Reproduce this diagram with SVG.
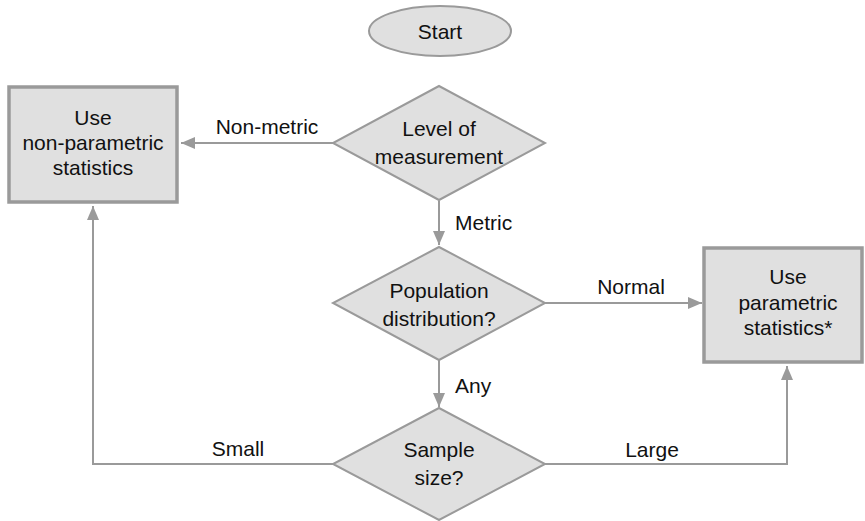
<svg xmlns="http://www.w3.org/2000/svg" width="865" height="521" viewBox="0 0 865 521">
  <style>
    .shape { fill: #e0e0e0; stroke: #9a9a9a; stroke-width: 2; }
    .box { fill: #e0e0e0; stroke: #9a9a9a; stroke-width: 3.5; }
    .lbl { font-family: "Liberation Sans", Arial, sans-serif; font-size: 21px; fill: #111; text-anchor: middle; }
    .start { text-anchor: start; }
    .edge { fill: none; stroke: #9a9a9a; stroke-width: 2; }
  </style>
  <defs>
    <marker id="arrow" viewBox="0 0 14 12" refX="14" refY="6" markerWidth="14" markerHeight="12" markerUnits="userSpaceOnUse" orient="auto">
      <path d="M0,0 L14,6 L0,12 Z" fill="#9a9a9a"/>
    </marker>
  </defs>

  <rect width="865" height="521" fill="#ffffff"/>

  <!-- connectors -->
  <g id="connectors">
    <line class="edge" x1="333" y1="143" x2="181" y2="143" marker-end="url(#arrow)"/>
    <text class="lbl" x="267" y="134">Non-metric</text>

    <line class="edge" x1="439" y1="201" x2="439" y2="245" marker-end="url(#arrow)"/>
    <text class="lbl start" x="455" y="230">Metric</text>

    <line class="edge" x1="545" y1="303" x2="702" y2="303" marker-end="url(#arrow)"/>
    <text class="lbl" x="631" y="294">Normal</text>

    <line class="edge" x1="439" y1="360" x2="439" y2="407" marker-end="url(#arrow)"/>
    <text class="lbl start" x="455" y="393">Any</text>

    <polyline class="edge" points="333,464 93,464 93,206" marker-end="url(#arrow)"/>
    <text class="lbl" x="238" y="456">Small</text>

    <polyline class="edge" points="545,464 787,464 787,366" marker-end="url(#arrow)"/>
    <text class="lbl" x="652" y="457">Large</text>
  </g>

  <!-- nodes -->
  <g id="start">
    <ellipse class="shape" cx="440" cy="31" rx="71" ry="25"/>
    <text class="lbl" x="440" y="39">Start</text>
  </g>

  <g id="level">
    <polygon class="shape" points="439,86 545,143 439,200 333,143"/>
    <text class="lbl" x="439" y="136">Level of</text>
    <text class="lbl" x="439" y="164">measurement</text>
  </g>

  <g id="distribution">
    <polygon class="shape" points="439,247 545,303 439,360 333,303"/>
    <text class="lbl" x="439" y="298">Population</text>
    <text class="lbl" x="439" y="326">distribution?</text>
  </g>

  <g id="sample">
    <polygon class="shape" points="439,408 545,464 439,520 333,464"/>
    <text class="lbl" x="439" y="457">Sample</text>
    <text class="lbl" x="439" y="485">size?</text>
  </g>

  <g id="nonparametric">
    <rect class="box" x="9" y="87" width="168" height="115"/>
    <text class="lbl" x="93" y="125">Use</text>
    <text class="lbl" x="93" y="150">non-parametric</text>
    <text class="lbl" x="93" y="175">statistics</text>
  </g>

  <g id="parametric">
    <rect class="box" x="704" y="248" width="158" height="114"/>
    <text class="lbl" x="788" y="284">Use</text>
    <text class="lbl" x="788" y="310">parametric</text>
    <text class="lbl" x="788" y="335">statistics*</text>
  </g>
</svg>
